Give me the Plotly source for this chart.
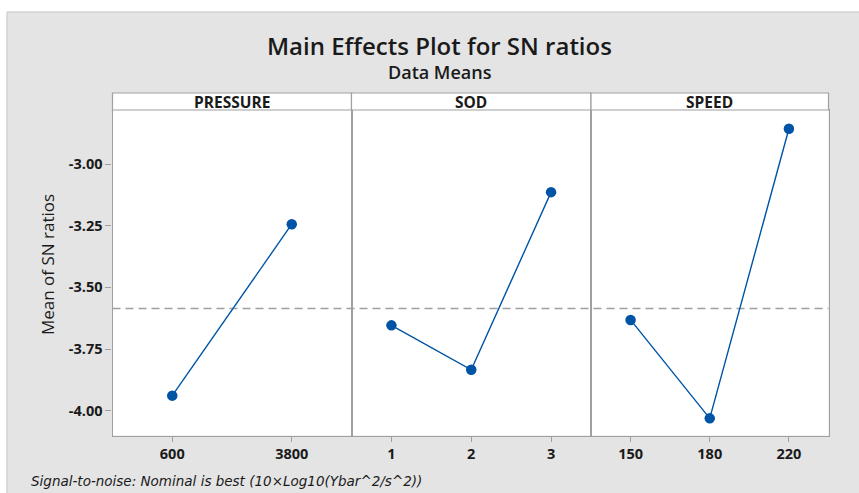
import plotly.graph_objects as go

# ---- data ----
factors = ["PRESSURE", "SOD", "SPEED"]
pressure_levels = ["600", "3800"]
pressure_sn = [-3.939, -3.244]
sod_levels = ["1", "2", "3"]
sod_sn = [-3.654, -3.834, -3.114]
speed_levels = ["150", "180", "220"]
speed_sn = [-3.632, -4.031, -2.857]
grand_mean = -3.586
y_ticks = [-4.00, -3.75, -3.50, -3.25, -3.00]
y_tick_labels = ["%.2f" % v for v in y_ticks]

W, H = 859, 493
BLUE = "#0054A6"
GRID = "#a0a0a0"
TXT = "#1a1a1a"

def px(x):
    return x / W

def py(y):
    return (H - y) / H

# panel geometry (pixel)
xs = [112.5, 351.5, 591.0, 828.5]
plot_top, plot_bot = 110.0, 435.5
strip_top = 93.0

fig = go.Figure()
series = [(pressure_levels, pressure_sn), (sod_levels, sod_sn), (speed_levels, speed_sn)]
for i, (lv, vals) in enumerate(series):
    sfx = "" if i == 0 else str(i + 1)
    fig.add_trace(go.Scatter(
        x=lv, y=vals, mode="lines+markers",
        line=dict(color=BLUE, width=1.4),
        marker=dict(color=BLUE, size=10.5),
        xaxis="x" + sfx, yaxis="y" + sfx, showlegend=False,
        hoverinfo="x+y"))

layout = dict(
    width=W, height=H, autosize=False,
    margin=dict(l=0, r=0, t=0, b=0),
    paper_bgcolor="#e4e4e4", plot_bgcolor="white",
    showlegend=False,
)

tickfont = dict(family="Open Sans", size=14.5, color=TXT, weight="bold")
for i, (lv, vals) in enumerate(series):
    sfx = "" if i == 0 else str(i + 1)
    layout["xaxis" + sfx] = dict(
        domain=[px(xs[i]), px(xs[i + 1])], anchor="y" + sfx,
        type="category", range=[-0.5, len(lv) - 0.5],
        showline=True, mirror=True, linecolor=GRID, linewidth=1.2,
        ticks="outside", ticklen=5, tickcolor=GRID, tickwidth=1,
        showgrid=False, zeroline=False, tickfont=tickfont,
    )
    yax = dict(
        domain=[py(plot_bot), py(plot_top)], anchor="x" + sfx,
        range=[-4.1005, -2.781],
        showline=True, mirror=True, linecolor=GRID, linewidth=1.2,
        showgrid=False, zeroline=False,
    )
    if i == 0:
        yax.update(tickvals=y_ticks, ticktext=y_tick_labels, ticks="outside",
                   ticklen=6, tickcolor=GRID, tickwidth=1, tickfont=tickfont)
    else:
        yax.update(matches="y", showticklabels=False, ticks="")
    layout["yaxis" + sfx] = yax

shapes = [
    # white outer margins
    dict(type="rect", xref="paper", yref="paper", x0=0, x1=1, y0=py(12), y1=1,
         fillcolor="white", line=dict(width=0), layer="below"),
    dict(type="rect", xref="paper", yref="paper", x0=0, x1=px(7), y0=0, y1=1,
         fillcolor="white", line=dict(width=0), layer="below"),
    dict(type="line", xref="paper", yref="paper", x0=px(7), x1=1, y0=py(12), y1=py(12),
         line=dict(color="#d2d2d2", width=1.5)),
    dict(type="line", xref="paper", yref="paper", x0=px(7), x1=px(7), y0=0, y1=py(12),
         line=dict(color="#d2d2d2", width=1.5)),
    # grand-mean reference line
    dict(type="line", xref="paper", yref="y", x0=px(xs[0]), x1=px(xs[3]),
         y0=grand_mean, y1=grand_mean,
         line=dict(color=GRID, width=1.5, dash="8px,5px"), layer="below"),
]
annotations = []
for i, name in enumerate(factors):
    shapes.append(dict(type="rect", xref="paper", yref="paper",
                       x0=px(xs[i]), x1=px(xs[i + 1]), y0=py(plot_top), y1=py(strip_top),
                       fillcolor="white", line=dict(color=GRID, width=1.2)))
    annotations.append(dict(text=name, xref="paper", yref="paper",
                            x=px((xs[i] + xs[i + 1]) / 2), y=py((plot_top + strip_top) / 2),
                            xanchor="center", yanchor="middle", showarrow=False,
                            font=dict(family="Open Sans", size=15.5, color=TXT, weight="bold")))

annotations += [
    dict(text="Main Effects Plot for SN ratios", xref="paper", yref="paper",
         x=px(439), y=py(45), xanchor="center", yanchor="middle", showarrow=False,
         font=dict(family="Open Sans", size=24, color=TXT, weight=600)),
    dict(text="Data Means", xref="paper", yref="paper",
         x=px(440), y=py(72), xanchor="center", yanchor="middle", showarrow=False,
         font=dict(family="Open Sans", size=18, color=TXT, weight=600)),
    dict(text="Mean of SN ratios", xref="paper", yref="paper",
         x=px(47), y=py(265), xanchor="center", yanchor="middle", showarrow=False,
         textangle=-90, font=dict(family="Open Sans", size=17, color=TXT, weight=500)),
    dict(text="<i>Signal-to-noise: Nominal is best (10×Log10(Ybar^2/s^2))</i>",
         xref="paper", yref="paper", x=px(29), y=py(481),
         xanchor="left", yanchor="middle", showarrow=False,
         font=dict(family="DejaVu Sans", size=13.5, color=TXT)),
]

layout["shapes"] = shapes
layout["annotations"] = annotations
fig.update_layout(**layout)
fig.write_html("out.html", config={"displayModeBar": False},
               post_script="document.body.style.margin='0px';document.body.style.overflow='hidden';")
